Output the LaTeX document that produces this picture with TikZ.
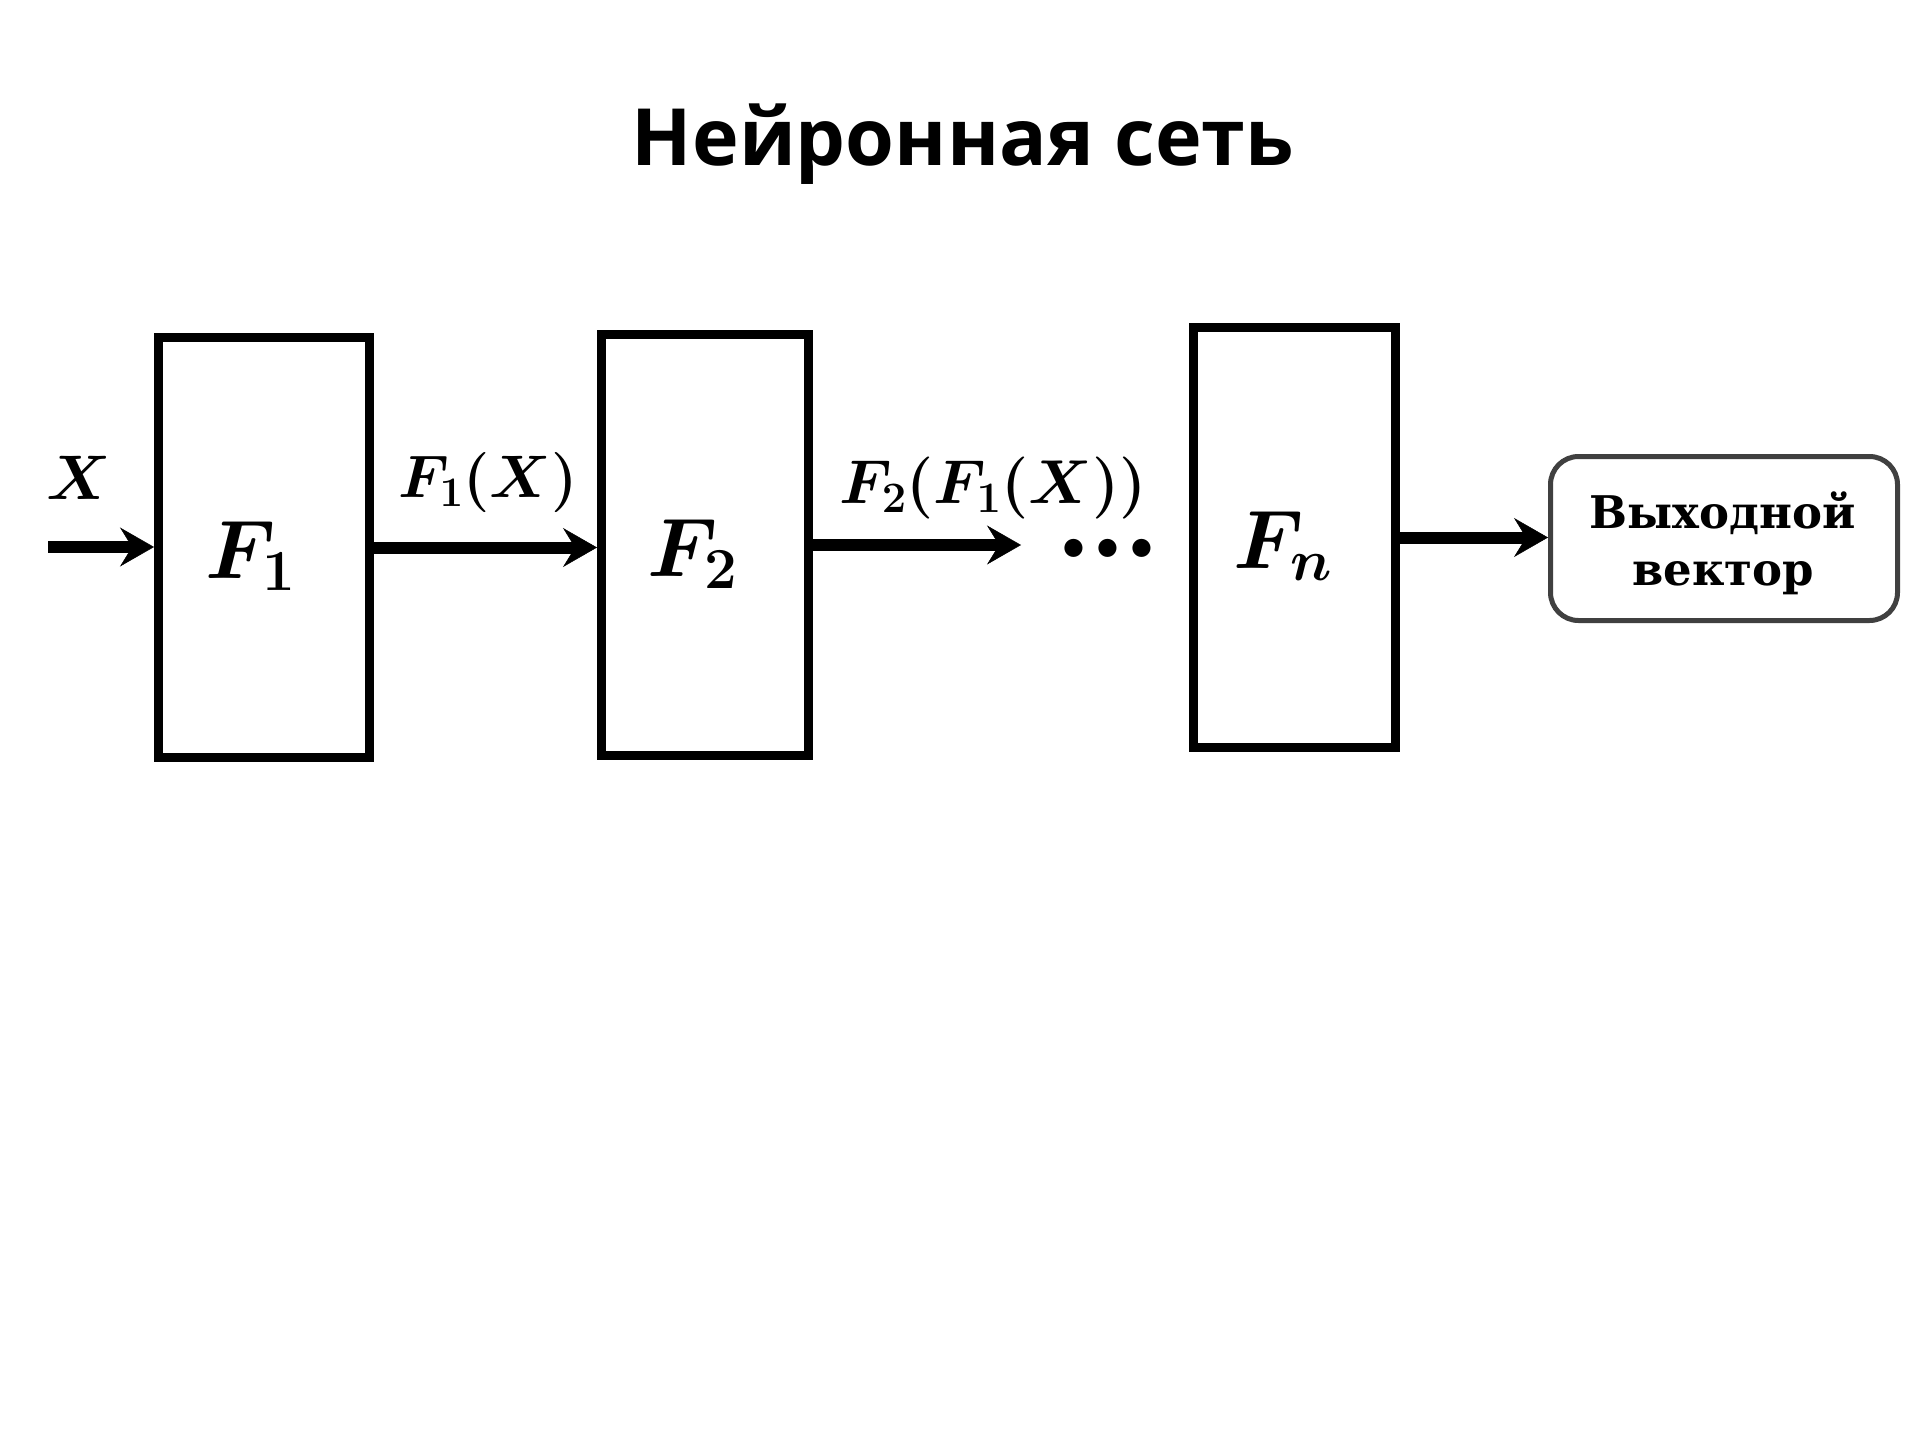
\RequirePackage{fix-cm}
\documentclass[tikz,border=0pt]{standalone}
\usepackage{amsmath,bm}
\usepackage{fontspec}
\newfontfamily\titlefont{Open Sans}
\newfontfamily\boxfont{DejaVu Serif}
\usetikzlibrary{arrows.meta}
\tikzset{
  block/.style={draw=black, line width=9pt, rectangle, inner sep=0pt, fill=none},
  outbox/.style={draw=black!75, line width=5pt, rectangle, rounded corners=28pt, inner sep=0pt},
  arr/.style={line width=12pt, -{Stealth[length=34pt, width=39pt, inset=12pt, line width=0.5pt]}},
  lbl/.style={inner sep=0pt, anchor=base west},
  bigmath/.style={font=\fontsize{83}{90}\selectfont},
  outtext/.style={inner sep=0pt, anchor=base, font=\boxfont\bfseries\fontsize{45}{57}\selectfont},
  titlestyle/.style={inner sep=0pt, anchor=base, font=\titlefont\bfseries\fontsize{79}{90}\selectfont}
}
\begin{document}
\begin{tikzpicture}[x=1pt,y=-1pt]
\useasboundingbox (0,0) rectangle (1920,1440);
\fill[white] (0,0) rectangle (1920,1440);

\node[titlestyle] (title) at (963,165) {Нейронная сеть};

\node[block, minimum width=211pt, minimum height=420pt] (f1) at (264,547.5) {};
\node[block, minimum width=207pt, minimum height=421pt] (f2) at (705,545) {};
\node[block, minimum width=202pt, minimum height=420pt] (fn) at (1294.5,537.5) {};
\node[outbox, minimum width=347pt, minimum height=164pt] (out) at (1724,538.5) {};

\node[lbl, bigmath] (l1) at (205,578) {$\bm{F_1}$};
\node[lbl, bigmath] (l2) at (647,576) {$\bm{F_2}$};
\node[lbl, bigmath] (ln) at (1233,568) {$\bm{F_n}$};

\node[lbl, font=\fontsize{63}{70}\selectfont] (lx) at (46,499) {$\bm{X}$};
\node[lbl, font=\fontsize{60}{66}\selectfont] (lf1x) at (398,497) {$\bm{F_1(X)}$};
\node[lbl, font=\fontsize{62}{68}\selectfont] (lf2) at (839,503) {$\bm{F_2(F_1(X))}$};

\node[inner sep=0pt, anchor=base, font=\fontsize{116}{118}\selectfont] (dots) at (1108,577) {\smash{$\mathord{\bm{\cdot}}\kern-3pt\mathord{\bm{\cdot}}\kern-3pt\mathord{\bm{\cdot}}$}};

\node[outtext] (o1) at (1723,528) {Выходной};
\node[outtext] (o2) at (1723,585) {вектор};

\coordinate (xin) at (48,547);
\coordinate (c2) at (1021,545);

\draw[arr] (xin) -- (xin -| f1.west);
\draw[arr] (f1.east) -- (f1.east -| f2.west);
\draw[arr] (f2.east) -- (c2);
\draw[arr] (fn.east) -- (fn.east -| out.west);
\end{tikzpicture}
\end{document}
